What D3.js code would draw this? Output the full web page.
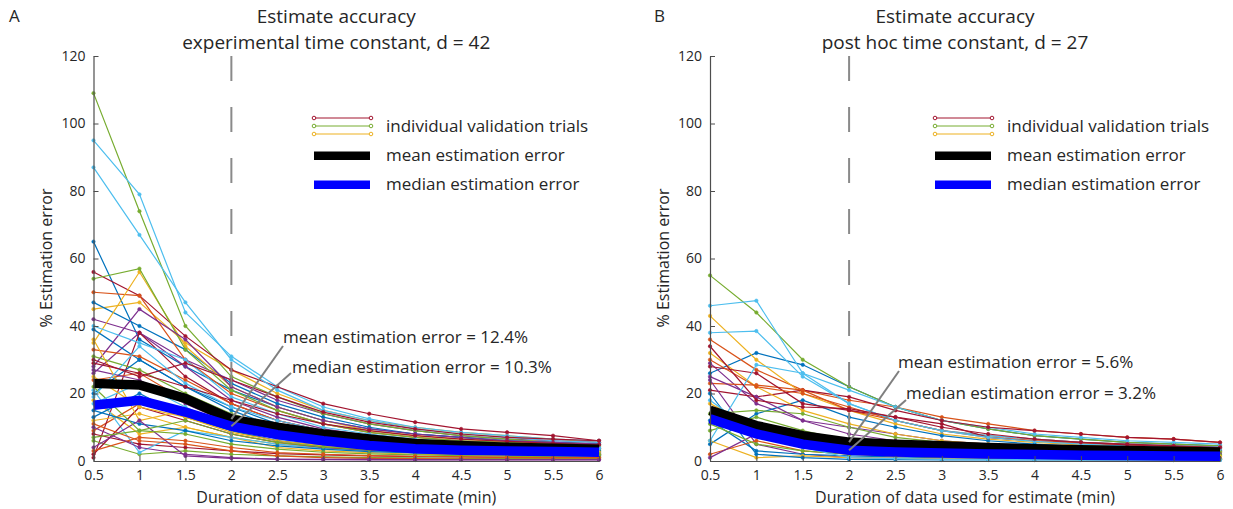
<!DOCTYPE html>
<html>
<head>
<meta charset="utf-8">
<script src="https://cdn.jsdelivr.net/npm/d3@7"></script>
<style>
    body { margin: 0; background: #fff; }
    text { font-family: "Open Sans", "Noto Sans", sans-serif; fill: #262626; }
</style>
</head>
<body>
<div id="chart"></div>
<script>

// x positions (min of data used)
var durations = [0.5, 1, 1.5, 2, 2.5, 3, 3.5, 4, 4.5, 5, 5.5, 6];
var yTicks = [0, 20, 40, 60, 80, 100, 120];
var xTicks = [0.5, 1, 1.5, 2, 2.5, 3, 3.5, 4, 4.5, 5, 5.5, 6];

// matlab default color order
var trialColors = ['#0072BD', '#D95319', '#EDB120', '#7E2F8E', '#77AC30', '#4DBEEE', '#A2142F'];

// panel A: experimental time constant, individual trials (% error)
var trialsA = [
    [65, 36, 28, 21, 16, 12, 9.5, 8, 7, 6, 5.5, 5],
    [9, 17, 14, 9, 6, 4.5, 3.5, 3, 2.6, 2.3, 2.1, 2],
    [45, 47, 35, 27, 20, 15, 12, 10, 8.5, 7.5, 6.5, 5.5],
    [42, 38, 30, 24, 18, 14, 11, 9, 7.5, 6.5, 6, 5.5],
    [109, 74, 40, 25, 19, 14, 11, 9, 7.5, 6.5, 5.5, 5],
    [95, 79, 44, 31, 22, 16, 12.5, 10, 8.5, 7.5, 6.5, 6],
    [56, 49, 37, 27, 22, 17, 14, 11.5, 9.5, 8.5, 7.5, 6],
    [47, 40, 33, 23, 17, 13, 10, 8, 7, 6, 5.5, 5],
    [50, 49, 30, 20, 15, 11, 8.5, 7, 6, 5.2, 4.6, 4.2],
    [35, 56, 34, 22, 16, 12, 9, 7.5, 6.5, 5.5, 5, 4.5],
    [26, 38, 28, 18, 13, 9.5, 7.5, 6, 5, 4.5, 4, 3.8],
    [54, 57, 33, 21, 15, 11, 8.5, 7, 6, 5.5, 5, 4.5],
    [87, 67, 47, 30, 21, 15, 12, 9.5, 8, 7, 6, 5.5],
    [1, 38, 25, 17, 12, 9, 7, 6, 5, 4.5, 4, 3.7],
    [39, 30, 22, 15, 10, 7.5, 5.5, 4.5, 3.8, 3.3, 3, 2.8],
    [33, 31, 24, 17, 12, 9, 7, 5.5, 4.5, 4, 3.6, 3.3],
    [12, 14, 10, 7, 5, 3.8, 3, 2.5, 2.2, 2, 1.8, 1.7],
    [28, 45, 36, 22, 16, 12, 9.5, 8, 7, 6, 5.5, 5],
    [31, 27, 20, 14, 10, 7.5, 6, 5, 4.3, 3.8, 3.5, 3.2],
    [40, 35, 30, 19, 14, 10, 8, 6.5, 5.5, 5, 4.5, 4],
    [8, 5, 4, 3, 2.2, 1.8, 1.5, 1.3, 1.2, 1.1, 1, 1],
    [20, 30, 22, 16, 11, 8, 6, 5, 4.2, 3.7, 3.3, 3],
    [24, 26, 18, 12, 8, 6, 4.5, 3.8, 3.2, 2.9, 2.6, 2.4],
    [18, 8, 10, 7, 4, 3, 2.5, 2, 1.8, 1.6, 1.5, 1.4],
    [27, 24, 17, 11, 7.5, 5.5, 4.2, 3.5, 3, 2.7, 2.5, 2.3],
    [6, 2, 3, 2, 1.5, 1.2, 1, 0.9, 0.8, 0.8, 0.7, 0.7],
    [21, 2.5, 9, 7, 5, 3.8, 3, 2.5, 2.2, 2, 1.8, 1.7],
    [2, 16, 12, 8, 5.5, 4, 3.2, 2.7, 2.3, 2.1, 1.9, 1.8],
    [15, 11, 9, 6, 4.5, 3.5, 2.8, 2.4, 2.1, 1.9, 1.7, 1.6],
    [11, 6, 5, 3, 1.5, 1, 0.8, 0.7, 0.6, 0.5, 0.5, 0.5],
    [36, 12, 15, 11, 8, 6, 4.8, 4, 3.5, 3.1, 2.8, 2.6],
    [4, 12, 1.5, 0.8, 0.6, 0.5, 0.5, 0.4, 0.4, 0.4, 0.4, 0.4],
    [22, 9, 8, 5, 3.5, 2.6, 2.1, 1.8, 1.6, 1.4, 1.3, 1.2],
    [17, 23, 16, 10, 6.5, 4.8, 3.8, 3.2, 2.8, 2.5, 2.3, 2.1],
    [30, 25, 29, 24, 19, 14.5, 11.5, 9.5, 8, 7, 6.5, 6],
    [13, 20, 13, 9, 6, 4.5, 3.5, 3, 2.6, 2.3, 2.1, 2],
    [3, 7, 6, 4, 2.5, 2, 1.6, 1.4, 1.2, 1.1, 1, 1],
    [25, 16, 13, 8.5, 6, 4.5, 3.5, 2.9, 2.5, 2.3, 2.1, 2],
    [10, 4, 2, 1, 0.5, 0.4, 0.3, 0.3, 0.3, 0.3, 0.3, 0.3],
    [7, 9, 12, 8, 5.5, 4.2, 3.3, 2.8, 2.4, 2.2, 2, 1.9],
    [19, 34, 23, 16, 12, 9, 7, 5.8, 5, 4.4, 4, 3.7],
    [29, 26, 22, 18, 14, 11, 9, 7.5, 6.5, 5.8, 5.2, 4.8]
];
var meanA = [23, 22.5, 18.5, 12.4, 10, 8, 6.5, 5.2, 4.6, 4.1, 3.8, 3.5];
var medianA = [16.5, 18, 14.5, 10.3, 7.8, 6, 4.6, 3.6, 3.2, 3, 2.8, 2.6];

// panel B: post hoc time constant
var trialsB = [
    [26, 32, 28.5, 22, 16, 12, 9.5, 7.5, 6.5, 5.5, 5, 4.5],
    [36, 27, 21, 18, 16, 13, 11, 9, 8, 7, 6.5, 5.5],
    [43, 30, 20, 15, 11, 8, 6.5, 5.5, 4.8, 4.2, 3.8, 3.5],
    [29, 17, 12, 10, 8, 6, 5, 4.2, 3.7, 3.3, 3, 2.8],
    [55, 44, 30, 22, 16, 12, 9.5, 7.5, 6.5, 5.5, 5, 4.5],
    [46, 47.5, 26, 21, 16, 12, 10, 8, 7, 6, 5.5, 5],
    [21, 19, 21, 19, 15, 12, 10, 9, 8, 7, 6.5, 5.5],
    [5, 14, 18, 13, 10, 7.5, 6, 5, 4.3, 3.8, 3.4, 3.1],
    [23, 22.5, 21, 15, 12, 9, 7.5, 6.5, 5.5, 5, 4.5, 4.2],
    [32, 22, 15, 11, 8, 6, 5, 4.2, 3.6, 3.2, 2.9, 2.7],
    [24, 5, 2, 1, 0.8, 0.6, 0.5, 0.5, 0.5, 0.4, 0.4, 0.4],
    [14, 15, 14, 10, 7, 5.5, 4.5, 3.8, 3.3, 3, 2.7, 2.5],
    [38, 38.5, 25, 17, 12, 9, 7.5, 6.5, 5.5, 5, 4.5, 4.2],
    [28, 26, 17, 15, 13, 11, 7, 6, 5.5, 5, 4.5, 4],
    [12, 3, 2, 1.5, 1.2, 1, 0.9, 0.8, 0.7, 0.7, 0.6, 0.6],
    [30, 22, 20, 16, 12, 9, 7, 6, 5.2, 4.6, 4.2, 3.8],
    [6, 1, 1.5, 1, 0.8, 0.6, 0.5, 0.5, 0.4, 0.4, 0.4, 0.4],
    [25, 19, 12, 8, 6, 4.5, 3.7, 3.1, 2.7, 2.4, 2.2, 2],
    [9, 13, 9, 6, 4.5, 3.5, 2.9, 2.5, 2.2, 2, 1.8, 1.7],
    [6, 28.5, 26, 17, 12, 9, 7, 5.8, 5, 4.4, 4, 3.6],
    [34, 18, 16, 15.5, 13, 10, 8, 6.5, 5.5, 4.8, 4.3, 4],
    [20, 2, 1, 0.5, 0.4, 0.3, 0.3, 0.3, 0.3, 0.3, 0.3, 0.3],
    [2, 6, 3, 2, 1.5, 1.2, 1, 0.9, 0.8, 0.7, 0.7, 0.6],
    [17, 10, 8, 5, 3.5, 2.7, 2.2, 1.9, 1.7, 1.5, 1.4, 1.3],
    [1, 8, 5, 3, 2, 1.5, 1.2, 1, 0.9, 0.8, 0.7, 0.7],
    [11, 5, 3, 2, 1.5, 1.1, 0.9, 0.8, 0.7, 0.6, 0.6, 0.5],
    [18, 8, 4, 1, 0.7, 0.5, 0.4, 0.4, 0.3, 0.3, 0.3, 0.3]
];
var meanB = [15, 10.5, 7.5, 5.6, 5, 4.5, 4, 3.6, 3.3, 3.1, 2.9, 2.7];
var medianB = [12.5, 8, 5, 3.2, 2.7, 2.4, 2.1, 1.9, 1.7, 1.6, 1.5, 1.4];

var legendLabels = ['individual validation trials', 'mean estimation error', 'median estimation error'];
var legendTrialColors = ['#A2142F', '#77AC30', '#EDB120'];

var svg = d3.select('#chart')
    .append('svg')
    .attr('width', 1233)
    .attr('height', 509);

plotPanel({
    letter: 'A', left: 93.5, right: 599, letterX: 9,
    title: ['Estimate accuracy', 'experimental time constant, d = 42'],
    trials: trialsA, mean: meanA, median: medianA,
    meanText: 'mean estimation error = 12.4%', medianText: 'median estimation error = 10.3%',
    meanAnchor: [283, 346], medianAnchor: [291, 373],
    meanTextPos: [283, 337], medianTextPos: [292, 367],
    legendX: 314
});

plotPanel({
    letter: 'B', left: 710, right: 1220, letterX: 654,
    title: ['Estimate accuracy', 'post hoc time constant, d = 27'],
    trials: trialsB, mean: meanB, median: medianB,
    meanText: 'mean estimation error = 5.6%', medianText: 'median estimation error = 3.2%',
    meanAnchor: [899, 371], medianAnchor: [906, 400],
    meanTextPos: [898, 362], medianTextPos: [906, 393],
    legendX: 935
});


function plotPanel(p) {

    var x = d3.scaleLinear()
        .domain([0.5, 6])
        .range([p.left, p.right]);

    var y = d3.scaleLinear()
        .domain([0, 120])
        .range([461, 56]);

    var g = svg.append('g');

    var line = d3.line()
        .x(function (d, i) { return x(durations[i]); })
        .y(function (d) { return y(d); });

    // individual trials
    for (var i = 0; i < p.trials.length; i ++) {
        var c = trialColors[i % trialColors.length];
        g.append('path')
            .attr('d', line(p.trials[i]))
            .attr('fill', 'none')
            .attr('stroke', c)
            .attr('stroke-width', 1.2);
        g.selectAll(null)
            .data(p.trials[i])
            .enter()
            .append('circle')
            .attr('cx', function (d, j) { return x(durations[j]); })
            .attr('cy', function (d) { return y(d); })
            .attr('r', 1.7)
            .attr('fill', c)
            .attr('stroke', c)
            .attr('stroke-width', 0.6);
    }

    // dashed line at 2 min
    g.append('line')
        .attr('x1', x(2)).attr('x2', x(2))
        .attr('y1', y(120)).attr('y2', y(0))
        .attr('stroke', '#8a8a8a')
        .attr('stroke-width', 2)
        .attr('stroke-dasharray', '25,26');

    // mean and median
    g.append('path')
        .attr('d', line(p.mean))
        .attr('fill', 'none')
        .attr('stroke', '#000')
        .attr('stroke-width', 9.5);

    g.append('path')
        .attr('d', line(p.median))
        .attr('fill', 'none')
        .attr('stroke', '#0000FF')
        .attr('stroke-width', 9.5);

    // axes
    var yAxis = d3.axisLeft(y)
        .tickValues(yTicks)
        .tickSize(-5)
        .tickSizeOuter(0)
        .tickPadding(8);

    var xAxis = d3.axisBottom(x)
        .tickValues(xTicks)
        .tickFormat(function (d) { return String(d); })
        .tickSize(-5)
        .tickSizeOuter(0)
        .tickPadding(9);

    var ya = g.append('g')
        .attr('transform', 'translate(' + x(0.5) + ',0)')
        .call(yAxis);
    var xa = g.append('g')
        .attr('transform', 'translate(0,' + y(0) + ')')
        .call(xAxis);

    [ya, xa].forEach(function (a) {
        a.select('.domain').attr('stroke', '#4d4d4d').attr('stroke-width', 1.2);
        a.selectAll('.tick line').attr('stroke', '#4d4d4d');
        a.selectAll('.tick text')
            .attr('font-size', 14)
            .attr('fill', '#262626')
            .style('font-family', '"Open Sans", sans-serif');
    });

    // annotations
    g.append('line')
        .attr('x1', p.meanAnchor[0]).attr('y1', p.meanAnchor[1])
        .attr('x2', x(2)).attr('y2', y(p.mean[3]))
        .attr('stroke', '#7f7f7f').attr('stroke-width', 2);
    g.append('line')
        .attr('x1', p.medianAnchor[0]).attr('y1', p.medianAnchor[1])
        .attr('x2', x(2)).attr('y2', y(p.median[3]))
        .attr('stroke', '#7f7f7f').attr('stroke-width', 2);

    g.append('text')
        .attr('x', p.meanTextPos[0]).attr('y', p.meanTextPos[1])
        .attr('dy', '0.35em')
        .attr('font-size', 17)
        .text(p.meanText);
    g.append('text')
        .attr('x', p.medianTextPos[0]).attr('y', p.medianTextPos[1])
        .attr('dy', '0.35em')
        .attr('font-size', 17)
        .text(p.medianText);

    // titles
    var cx = (p.left + p.right) / 2 - 10;
    g.append('text')
        .attr('x', cx).attr('y', 16)
        .attr('dy', '0.35em')
        .attr('text-anchor', 'middle')
        .attr('font-size', 19)
        .text(p.title[0]);
    g.append('text')
        .attr('x', cx).attr('y', 42)
        .attr('dy', '0.35em')
        .attr('text-anchor', 'middle')
        .attr('font-size', 19)
        .text(p.title[1]);

    g.append('text')
        .attr('x', p.letterX).attr('y', 16)
        .attr('dy', '0.35em')
        .attr('font-size', 17)
        .text(p.letter);

    // axis labels
    g.append('text')
        .attr('x', (p.left + p.right) / 2).attr('y', 497)
        .attr('dy', '0.35em')
        .attr('text-anchor', 'middle')
        .attr('font-size', 16)
        .text('Duration of data used for estimate (min)');

    g.append('text')
        .attr('transform', 'translate(' + (p.left - 47) + ',258) rotate(-90)')
        .attr('dy', '0.35em')
        .attr('text-anchor', 'middle')
        .attr('font-size', 16)
        .text('% Estimation error');

    // legend
    var lg = g.append('g');
    for (var k = 0; k < legendTrialColors.length; k ++) {
        var ly = 118 + k * 8;
        lg.append('line')
            .attr('x1', p.legendX).attr('x2', p.legendX + 57)
            .attr('y1', ly).attr('y2', ly)
            .attr('stroke', legendTrialColors[k])
            .attr('stroke-width', 1);
        lg.selectAll(null)
            .data([p.legendX, p.legendX + 57])
            .enter()
            .append('circle')
            .attr('cx', function (d) { return d; })
            .attr('cy', ly)
            .attr('r', 1.8)
            .attr('fill', '#fff')
            .attr('stroke', legendTrialColors[k]);
    }
    lg.append('rect')
        .attr('x', p.legendX).attr('y', 151.5)
        .attr('width', 56).attr('height', 8.5)
        .attr('fill', '#000');
    lg.append('rect')
        .attr('x', p.legendX).attr('y', 180.5)
        .attr('width', 56).attr('height', 8.5)
        .attr('fill', '#0000FF');

    var ltx = p.legendX + 72;
    [126, 155, 184].forEach(function (yy, k) {
        lg.append('text')
            .attr('x', ltx).attr('y', yy)
            .attr('dy', '0.35em')
            .attr('font-size', 17)
            .text(legendLabels[k]);
    });
}

</script>
</body>
</html>
